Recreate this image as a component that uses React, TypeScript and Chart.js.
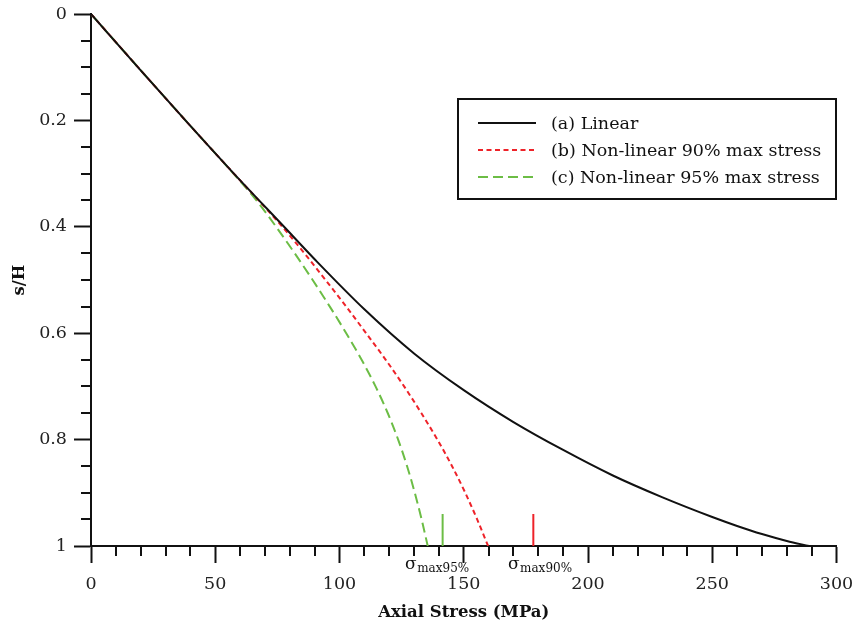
import React, { useEffect, useRef } from "react";
import { Chart, registerables } from "chart.js";

Chart.register(...registerables);

// ---- data ----
const seriesLabels = [
  "(a) Linear",
  "(b) Non-linear 90% max stress",
  "(c) Non-linear 95% max stress",
];
const seriesColors = ["#111111", "#ee2229", "#6cbd45"];

const linearStress = [0, 20, 38, 57.5, 77.7, 90, 110, 130, 150, 170, 190, 210, 230, 250, 260, 270, 280, 289];
const linearSH = [0, 0.106, 0.2, 0.3, 0.4, 0.461, 0.555, 0.638, 0.707, 0.767, 0.8195, 0.8675, 0.9086, 0.9455, 0.9623, 0.9775, 0.9905, 1.0];

const nl90Stress = [0, 18.9, 38, 57.5, 67.4, 77, 85.9, 94.4, 102.7, 110.7, 118.6, 126, 132.9, 139.4, 145.3, 150.6, 155.4, 159.8];
const nl90SH = [0, 0.1, 0.2, 0.3, 0.35, 0.4, 0.45, 0.5, 0.55, 0.6, 0.65, 0.7, 0.75, 0.8, 0.85, 0.9, 0.95, 1.0];

const nl95Stress = [0, 18.9, 38, 57.3, 66.5, 74.5, 82, 89.2, 96.1, 102.7, 108.9, 114.5, 119.4, 123.6, 127.2, 130.3, 133.05, 135.5];
const nl95SH = [0, 0.1, 0.2, 0.3, 0.35, 0.4, 0.45, 0.5, 0.55, 0.6, 0.65, 0.7, 0.75, 0.8, 0.85, 0.9, 0.95, 1.0];

const markerStress = [141.5, 178];
const markerTopSH = 0.94;
const markerSubs = ["max95%", "max90%"];
const markerLabelStress = [126.4, 167.8];
const markerColors = ["#6cbd45", "#ee2229"];

const xTickStep = 50;
const xMinorStep = 10;
const yTickStep = 0.2;
const yMinorStep = 0.05;

const FONT = "'DejaVu Serif', 'Liberation Serif', serif";

function pts(xs: number[], ys: number[]) {
  return xs.map((v, i) => ({ x: v, y: ys[i] }));
}

const decorPlugin = {
  id: "decor",
  afterDraw(chart: any) {
    const { ctx } = chart;
    const x = chart.scales.x;
    const y = chart.scales.y;
    ctx.save();
    // minor ticks
    ctx.strokeStyle = "#111";
    ctx.lineWidth = 2;
    const nx = Math.round(300 / xMinorStep);
    for (let i = 0; i <= nx; i++) {
      const v = i * xMinorStep;
      if (Math.abs(v / xTickStep - Math.round(v / xTickStep)) < 1e-6) continue;
      const px = Math.round(x.getPixelForValue(v));
      ctx.beginPath();
      ctx.moveTo(px, y.bottom);
      ctx.lineTo(px, y.bottom + 10);
      ctx.stroke();
    }
    const ny = Math.round(1 / yMinorStep);
    for (let i = 0; i <= ny; i++) {
      const v = i * yMinorStep;
      if (Math.abs(v / yTickStep - Math.round(v / yTickStep)) < 1e-6) continue;
      const py = Math.round(y.getPixelForValue(v));
      ctx.beginPath();
      ctx.moveTo(x.left, py);
      ctx.lineTo(x.left - 10, py);
      ctx.stroke();
    }

    // sigma labels
    ctx.fillStyle = "#111";
    ctx.textBaseline = "alphabetic";
    ctx.textAlign = "left";
    markerSubs.forEach((sub, i) => {
      const lx = x.getPixelForValue(markerLabelStress[i]);
      const by = y.bottom + 23;
      ctx.font = `17px ${FONT}`;
      ctx.fillText("σ", lx, by);
      const w = ctx.measureText("σ").width;
      ctx.font = `12px ${FONT}`;
      ctx.fillText(sub, lx + w + 0.5, by + 3);
    });

    // legend
    const bx = 458;
    const bw = 378;
    const byTop = 99;
    const bh = 100;
    ctx.fillStyle = "#fff";
    ctx.fillRect(bx, byTop, bw, bh);
    ctx.strokeStyle = "#111";
    ctx.lineWidth = 2;
    ctx.setLineDash([]);
    ctx.strokeRect(bx, byTop, bw, bh);
    const datasets = chart.data.datasets.slice(0, seriesLabels.length);
    datasets.forEach((ds: any, i: number) => {
      const ry = 123 + i * 27;
      ctx.strokeStyle = ds.borderColor;
      ctx.lineWidth = 2;
      ctx.setLineDash(ds.borderDash || []);
      ctx.beginPath();
      ctx.moveTo(478, ry);
      ctx.lineTo(536, ry);
      ctx.stroke();
      ctx.setLineDash([]);
      ctx.fillStyle = "#111";
      ctx.font = `17.5px ${FONT}`;
      ctx.textBaseline = "middle";
      ctx.fillText(ds.label, 551, ry + 1);
    });
    ctx.restore();
  },
};

export default function App() {
  const ref = useRef<HTMLCanvasElement | null>(null);
  useEffect(() => {
    document.body.style.margin = "0";
    document.body.style.overflow = "hidden";
    const canvas = ref.current;
    if (!canvas) return;
    const lineBase = {
      fill: false,
      pointRadius: 0,
      borderWidth: 2,
      cubicInterpolationMode: "monotone" as const,
    };
    const chart = new Chart(canvas, {
      type: "line",
      data: {
        datasets: [
          {
            ...lineBase,
            label: seriesLabels[0],
            data: pts(linearStress, linearSH),
            borderColor: seriesColors[0],
          },
          {
            ...lineBase,
            label: seriesLabels[1],
            data: pts(nl90Stress, nl90SH),
            borderColor: seriesColors[1],
            borderDash: [5, 3.5],
          },
          {
            ...lineBase,
            label: seriesLabels[2],
            data: pts(nl95Stress, nl95SH),
            borderColor: seriesColors[2],
            borderDash: [10, 5],
          },
          ...markerStress.map((s, i) => ({
            label: "σ" + markerSubs[i],
            data: [
              { x: s, y: markerTopSH },
              { x: s, y: 1 },
            ],
            borderColor: markerColors[i],
            borderWidth: 2,
            pointRadius: 0,
            fill: false,
          })),
        ],
      },
      options: {
        responsive: false,
        animation: false,
        events: [],
        layout: { padding: { left: 0, right: 18.5, top: 14, bottom: 0 } },
        plugins: {
          legend: { display: false },
          tooltip: { enabled: false },
        },
        scales: {
          x: {
            type: "linear",
            min: 0,
            max: 300,
            afterFit: (s: any) => {
              s.height = 82;
              s.paddingLeft = 0;
              s.paddingRight = 0;
            },
            ticks: {
              stepSize: xTickStep,
              color: "#222",
              font: { family: FONT, size: 17.5 },
              padding: 11,
              maxRotation: 0,
            },
            grid: {
              display: true,
              drawOnChartArea: false,
              drawTicks: true,
              tickLength: 17,
              tickWidth: 2,
              tickColor: "#111",
            },
            border: { display: true, color: "#111", width: 2 },
            title: {
              display: true,
              text: "Axial Stress (MPa)",
              color: "#111",
              font: { family: FONT, size: 16.5, weight: "bold" },
              padding: { top: 0, bottom: 5 },
            },
          },
          y: {
            type: "linear",
            min: 0,
            max: 1,
            reverse: true,
            afterFit: (s: any) => {
              s.width = 91;
              s.paddingTop = 0;
              s.paddingBottom = 0;
            },
            ticks: {
              stepSize: yTickStep,
              color: "#222",
              font: { family: FONT, size: 17.5 },
              padding: 7,
              callback: (v: any) => String(Math.round(Number(v) * 100) / 100),
            },
            grid: {
              display: true,
              drawOnChartArea: false,
              drawTicks: true,
              tickLength: 17,
              tickWidth: 2,
              tickColor: "#111",
            },
            border: { display: true, color: "#111", width: 2 },
            title: {
              display: true,
              text: "s/H",
              color: "#111",
              font: { family: FONT, size: 16.5, weight: "bold" },
              padding: { top: 10, bottom: 0 },
            },
          },
        },
      },
      plugins: [decorPlugin],
    });
    return () => chart.destroy();
  }, []);
  return (
    <canvas
      ref={ref}
      width={855}
      height={628}
      style={{ display: "block", width: 855, height: 628 }}
    />
  );
}
